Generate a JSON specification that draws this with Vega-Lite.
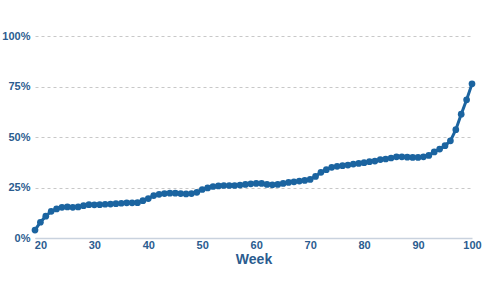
{
  "$schema": "https://vega.github.io/schema/vega-lite/v6.json",
  "width": 437,
  "height": 202,
  "autosize": {"type": "none"},
  "padding": {"left": 35, "top": 36, "right": 28, "bottom": 58},
  "background": "white",
  "config": {"view": {"stroke": null}},
  "data": {"values": [
    {"week": 19, "v": 0.039}, {"week": 20, "v": 0.078}, {"week": 21, "v": 0.108}, {"week": 22, "v": 0.132},
    {"week": 23, "v": 0.144}, {"week": 24, "v": 0.152}, {"week": 25, "v": 0.154}, {"week": 26, "v": 0.152},
    {"week": 27, "v": 0.154}, {"week": 28, "v": 0.16}, {"week": 29, "v": 0.165}, {"week": 30, "v": 0.164},
    {"week": 31, "v": 0.165}, {"week": 32, "v": 0.167}, {"week": 33, "v": 0.168}, {"week": 34, "v": 0.17},
    {"week": 35, "v": 0.172}, {"week": 36, "v": 0.174}, {"week": 37, "v": 0.174}, {"week": 38, "v": 0.175},
    {"week": 39, "v": 0.185}, {"week": 40, "v": 0.195}, {"week": 41, "v": 0.21}, {"week": 42, "v": 0.216},
    {"week": 43, "v": 0.22}, {"week": 44, "v": 0.222}, {"week": 45, "v": 0.222}, {"week": 46, "v": 0.22},
    {"week": 47, "v": 0.218}, {"week": 48, "v": 0.22}, {"week": 49, "v": 0.226}, {"week": 50, "v": 0.24},
    {"week": 51, "v": 0.248}, {"week": 52, "v": 0.255}, {"week": 53, "v": 0.258}, {"week": 54, "v": 0.26},
    {"week": 55, "v": 0.26}, {"week": 56, "v": 0.26}, {"week": 57, "v": 0.262}, {"week": 58, "v": 0.265},
    {"week": 59, "v": 0.268}, {"week": 60, "v": 0.27}, {"week": 61, "v": 0.27}, {"week": 62, "v": 0.265},
    {"week": 63, "v": 0.263}, {"week": 64, "v": 0.265}, {"week": 65, "v": 0.27}, {"week": 66, "v": 0.275},
    {"week": 67, "v": 0.278}, {"week": 68, "v": 0.282}, {"week": 69, "v": 0.285}, {"week": 70, "v": 0.29},
    {"week": 71, "v": 0.305}, {"week": 72, "v": 0.325}, {"week": 73, "v": 0.338}, {"week": 74, "v": 0.35},
    {"week": 75, "v": 0.355}, {"week": 76, "v": 0.358}, {"week": 77, "v": 0.361}, {"week": 78, "v": 0.366},
    {"week": 79, "v": 0.369}, {"week": 80, "v": 0.373}, {"week": 81, "v": 0.378}, {"week": 82, "v": 0.381},
    {"week": 83, "v": 0.388}, {"week": 84, "v": 0.391}, {"week": 85, "v": 0.396}, {"week": 86, "v": 0.402},
    {"week": 87, "v": 0.402}, {"week": 88, "v": 0.4}, {"week": 89, "v": 0.399}, {"week": 90, "v": 0.399},
    {"week": 91, "v": 0.402}, {"week": 92, "v": 0.409}, {"week": 93, "v": 0.426}, {"week": 94, "v": 0.44},
    {"week": 95, "v": 0.457}, {"week": 96, "v": 0.481}, {"week": 97, "v": 0.536}, {"week": 98, "v": 0.613},
    {"week": 99, "v": 0.684}, {"week": 100, "v": 0.763}
  ]},
  "encoding": {
    "x": {
      "field": "week", "type": "quantitative",
      "scale": {"domain": [19, 100], "nice": false, "zero": false},
      "axis": {
        "values": [20, 30, 40, 50, 60, 70, 80, 90, 100],
        "title": "Week", "titleFont": "Liberation Sans", "titleFontSize": 14, "titleFontWeight": "bold",
        "titleColor": "#2b5c8f", "titlePadding": 2,
        "labelFont": "Liberation Sans", "labelFontSize": 11, "labelFontWeight": "bold", "labelColor": "#2b5c8f",
        "labelPadding": 1, "labelFlush": false, "ticks": false, "grid": false,
        "domainColor": "#c9d2de", "domainWidth": 1.5
      }
    },
    "y": {
      "field": "v", "type": "quantitative",
      "scale": {"domain": [0, 1], "nice": false},
      "axis": {
        "values": [0, 0.25, 0.5, 0.75, 1], "format": ".0%", "title": null,
        "labelFont": "Liberation Sans", "labelFontSize": 11, "labelFontWeight": "bold", "labelColor": "#2b5c8f",
        "labelPadding": 5, "labelFlush": false, "ticks": false, "domain": false,
        "grid": true, "gridColor": "#c8c8c8", "gridDash": [3, 3], "gridWidth": 1
      }
    }
  },
  "layer": [
    {"mark": {"type": "line", "color": "#1b64a0", "strokeWidth": 3}},
    {"mark": {"type": "point", "filled": true, "opacity": 1, "color": "#1b64a0", "size": 45}}
  ]
}
